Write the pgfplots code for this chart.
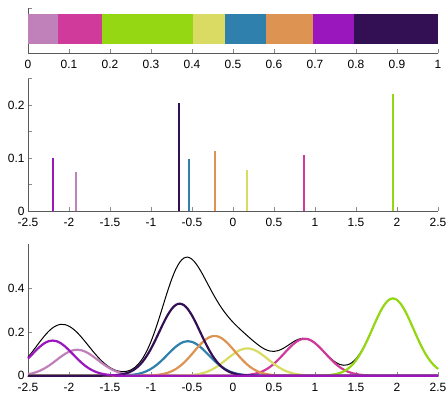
\documentclass[border=0pt]{standalone}
\usepackage{pgfplots}
\pgfplotsset{compat=1.18}
\usepackage{fontspec}
\setmainfont{Liberation Sans}
\definecolor{cLP}{HTML}{C080B9}
\definecolor{cM}{HTML}{D03A9B}
\definecolor{cG}{HTML}{94D712}
\definecolor{cY}{HTML}{D9DB62}
\definecolor{cB}{HTML}{2F80AC}
\definecolor{cO}{HTML}{DD9452}
\definecolor{cP}{HTML}{9A17BD}
\definecolor{cDP}{HTML}{331054}
\definecolor{axgray}{HTML}{5A5A5A}
\definecolor{tkgray}{HTML}{8A8A8A}
\pgfplotsset{
  base/.style={
    scale only axis, width=410bp,
    axis lines*=left, tick align=inside,
    axis line style={draw=axgray, line width=0.6bp},
    major tick style={draw=tkgray, line width=0.6bp},
    major tick length=4bp,
    tick label style={font=\fontsize{12}{14}\selectfont, text=black},
    xticklabel style={yshift=-4bp},
    every axis plot/.append style={line join=round},
  },
  pm/.style={
    xmin=-2.5, xmax=2.5,
    xtick={-2.5,-2,-1.5,-1,-0.5,0,0.5,1,1.5,2,2.5},
    xticklabels={-2.5,-2,-1.5,-1,-0.5,0,0.5,1,1.5,2,2.5},
  },
  comp/.style={line width=2.2bp, smooth},
}
\begin{document}
\begin{tikzpicture}
\path[use as bounding box] (0,0) rectangle (448bp,393bp);
% ---------- top: stacked weights ----------
\begin{axis}[base, at={(28bp,340bp)}, anchor=south west, height=45bp,
  xmin=0, xmax=1, ymin=0.2, ymax=1.7,
  xbar stacked, bar width=1,
  xtick={0,0.1,0.2,0.3,0.4,0.5,0.6,0.7,0.8,0.9,1},
  xticklabels={0,0.1,0.2,0.3,0.4,0.5,0.6,0.7,0.8,0.9,1},
  ytick={1.7}, yticklabels={},
]
\addplot[fill=cLP, draw=none] coordinates {(0.074,1)};
\addplot[fill=cM,  draw=none] coordinates {(0.106,1)};
\addplot[fill=cG,  draw=none] coordinates {(0.222,1)};
\addplot[fill=cY,  draw=none] coordinates {(0.078,1)};
\addplot[fill=cB,  draw=none] coordinates {(0.100,1)};
\addplot[fill=cO,  draw=none] coordinates {(0.114,1)};
\addplot[fill=cP,  draw=none] coordinates {(0.102,1)};
\addplot[fill=cDP, draw=none] coordinates {(0.204,1)};
\end{axis}
% ---------- middle: stems ----------
\begin{axis}[base, pm, at={(28bp,182bp)}, anchor=south west, height=132.3bp,
  ymin=0, ymax=0.25,
  ytick={0,0.05,0.1,0.15,0.2,0.25}, yticklabels={0,,0.1,,0.2,},
]
\addplot[ycomb, line width=2bp, draw=cP]  coordinates {(-2.19,0.1006)};
\addplot[ycomb, line width=2bp, draw=cLP] coordinates {(-1.91,0.0734)};
\addplot[ycomb, line width=2bp, draw=cDP] coordinates {(-0.655,0.2043)};
\addplot[ycomb, line width=2bp, draw=cB]  coordinates {(-0.54,0.0987)};
\addplot[ycomb, line width=2bp, draw=cO]  coordinates {(-0.216,0.114)};
\addplot[ycomb, line width=2bp, draw=cY]  coordinates {(0.175,0.078)};
\addplot[ycomb, line width=2bp, draw=cM]  coordinates {(0.862,0.1057)};
\addplot[ycomb, line width=2bp, draw=cG]  coordinates {(1.95,0.2214)};
\end{axis}
% ---------- bottom: mixture density ----------
\begin{axis}[base, pm, at={(28bp,17.3bp)}, anchor=south west, height=131.7bp,
  ymin=0, ymax=0.603, clip=false,
  ytick={0,0.2,0.4}, yticklabels={0,0.2,0.4},
]
\addplot[black, line width=1bp, smooth] coordinates {
(-2.5,0.0851)(-2.45,0.1082)(-2.4,0.1330)(-2.35,0.1581)(-2.3,0.1817)(-2.25,0.2025)(-2.2,0.2189)(-2.15,0.2300)(-2.1,0.2350)(-2.05,0.2339)(-2,0.2267)(-1.95,0.2142)(-1.9,0.1974)(-1.85,0.1770)(-1.8,0.1546)(-1.75,0.1313)(-1.7,0.1082)(-1.65,0.0866)(-1.6,0.0671)(-1.55,0.0508)(-1.5,0.0374)(-1.45,0.0276)(-1.4,0.0213)(-1.35,0.0185)(-1.3,0.0199)(-1.25,0.0257)(-1.2,0.0372)(-1.15,0.0550)(-1.1,0.0804)(-1.05,0.1143)(-1,0.1568)(-0.95,0.2073)(-0.9,0.2642)(-0.85,0.3245)(-0.8,0.3844)(-0.75,0.4395)(-0.7,0.4857)(-0.65,0.5192)(-0.6,0.5385)(-0.55,0.5427)(-0.5,0.5332)(-0.45,0.5123)(-0.4,0.4835)(-0.35,0.4497)(-0.3,0.4142)(-0.25,0.3792)(-0.2,0.3463)(-0.15,0.3162)(-0.1,0.2896)(-0.05,0.2660)(0,0.2448)(0.05,0.2258)(0.1,0.2082)(0.15,0.1911)(0.2,0.1745)(0.25,0.1582)(0.3,0.1431)(0.35,0.1296)(0.4,0.1193)(0.45,0.1130)(0.5,0.1113)(0.55,0.1147)(0.6,0.1226)(0.65,0.1337)(0.7,0.1463)(0.75,0.1581)(0.8,0.1671)(0.85,0.1715)(0.9,0.1701)(0.95,0.1627)(1,0.1499)(1.05,0.1331)(1.1,0.1139)(1.15,0.0945)(1.2,0.0765)(1.25,0.0619)(1.3,0.0518)(1.35,0.0477)(1.4,0.0501)(1.45,0.0599)(1.5,0.0775)(1.55,0.1028)(1.6,0.1354)(1.65,0.1737)(1.7,0.2154)(1.75,0.2574)(1.8,0.2959)(1.85,0.3269)(1.9,0.3470)(1.95,0.3540)(2,0.3470)(2.05,0.3268)(2.1,0.2957)(2.15,0.2570)(2.2,0.2147)(2.25,0.1723)(2.3,0.1329)(2.35,0.0984)(2.4,0.0701)(2.45,0.0479)(2.5,0.0315)};
% light pink
\addplot[comp, cLP] coordinates {
(-2.5,0.0067)(-2.45,0.0106)(-2.4,0.0161)(-2.35,0.0236)(-2.3,0.0331)(-2.25,0.0447)(-2.2,0.0579)(-2.15,0.0722)(-2.1,0.0864)(-2.05,0.0994)(-2,0.1098)(-1.95,0.1166)(-1.9,0.1190)(-1.85,0.1166)(-1.8,0.1098)(-1.75,0.0994)(-1.7,0.0864)(-1.65,0.0722)(-1.6,0.0579)(-1.55,0.0447)(-1.5,0.0331)(-1.45,0.0236)(-1.4,0.0161)(-1.35,0.0106)(-1.3,0.0067)(-1.25,0.0040)(-1.2,0.0024)(-1.15,0.0013)(-1.1,0.0007)(-1.05,0.0004)(-1,0.0002)(-0.95,0.0001)(-0.9,0)(2.5,0)};
% magenta
\addplot[comp, cM] coordinates {
(-2.5,0)(-0.15,0)(-0.1,0.0001)(-0.05,0.0002)(0,0.0004)(0.05,0.0007)(0.1,0.0014)(0.15,0.0025)(0.2,0.0044)(0.25,0.0074)(0.3,0.0120)(0.35,0.0186)(0.4,0.0278)(0.45,0.0398)(0.5,0.0549)(0.55,0.0726)(0.6,0.0923)(0.65,0.1127)(0.7,0.1323)(0.75,0.1491)(0.8,0.1616)(0.85,0.1682)(0.9,0.1682)(0.95,0.1616)(1,0.1491)(1.05,0.1323)(1.1,0.1127)(1.15,0.0923)(1.2,0.0726)(1.25,0.0549)(1.3,0.0398)(1.35,0.0278)(1.4,0.0186)(1.45,0.0120)(1.5,0.0074)(1.55,0.0044)(1.6,0.0025)(1.65,0.0014)(1.7,0.0007)(1.75,0.0004)(1.8,0.0002)(1.85,0.0001)(1.9,0)(2.5,0)};
% green
\addplot[comp, cG] coordinates {
(-2.5,0)(0.9,0)(0.95,0.0001)(1,0.0003)(1.05,0.0005)(1.1,0.0011)(1.15,0.0021)(1.2,0.0039)(1.25,0.0070)(1.3,0.0120)(1.35,0.0199)(1.4,0.0315)(1.45,0.0479)(1.5,0.0701)(1.55,0.0984)(1.6,0.1329)(1.65,0.1723)(1.7,0.2147)(1.75,0.2570)(1.8,0.2957)(1.85,0.3268)(1.9,0.3470)(1.95,0.3540)(2,0.3470)(2.05,0.3268)(2.1,0.2957)(2.15,0.2570)(2.2,0.2147)(2.25,0.1723)(2.3,0.1329)(2.35,0.0984)(2.4,0.0701)(2.45,0.0479)(2.5,0.0315)};
% yellow
\addplot[comp, cY] coordinates {
(-2.5,0)(-0.85,0)(-0.8,0.0001)(-0.75,0.0001)(-0.7,0.0003)(-0.65,0.0005)(-0.6,0.0010)(-0.55,0.0019)(-0.5,0.0033)(-0.45,0.0055)(-0.4,0.0089)(-0.35,0.0138)(-0.3,0.0206)(-0.25,0.0295)(-0.2,0.0406)(-0.15,0.0537)(-0.1,0.0683)(-0.05,0.0834)(0,0.0978)(0.05,0.1103)(0.1,0.1195)(0.15,0.1244)(0.2,0.1244)(0.25,0.1195)(0.3,0.1103)(0.35,0.0978)(0.4,0.0834)(0.45,0.0683)(0.5,0.0537)(0.55,0.0406)(0.6,0.0295)(0.65,0.0206)(0.7,0.0138)(0.75,0.0089)(0.8,0.0055)(0.85,0.0033)(0.9,0.0019)(0.95,0.0010)(1,0.0005)(1.05,0.0003)(1.1,0.0001)(1.15,0.0001)(1.2,0)(2.5,0)};
% blue
\addplot[comp, cB] coordinates {
(-2.5,0)(-1.6,0)(-1.55,0.0001)(-1.5,0.0001)(-1.45,0.0002)(-1.4,0.0005)(-1.35,0.0009)(-1.3,0.0018)(-1.25,0.0031)(-1.2,0.0054)(-1.15,0.0089)(-1.1,0.0140)(-1.05,0.0214)(-1,0.0313)(-0.95,0.0439)(-0.9,0.0593)(-0.85,0.0769)(-0.8,0.0958)(-0.75,0.1147)(-0.7,0.1320)(-0.65,0.1458)(-0.6,0.1549)(-0.55,0.1580)(-0.5,0.1549)(-0.45,0.1458)(-0.4,0.1320)(-0.35,0.1147)(-0.3,0.0958)(-0.25,0.0769)(-0.2,0.0593)(-0.15,0.0439)(-0.1,0.0313)(-0.05,0.0214)(0,0.0140)(0.05,0.0089)(0.1,0.0054)(0.15,0.0031)(0.2,0.0018)(0.25,0.0009)(0.3,0.0005)(0.35,0.0002)(0.4,0.0001)(0.45,0.0001)(0.5,0)(2.5,0)};
% orange
\addplot[comp, cO] coordinates {
(-2.5,0)(-1.25,0)(-1.2,0.0001)(-1.15,0.0002)(-1.1,0.0004)(-1.05,0.0008)(-1,0.0015)(-0.95,0.0027)(-0.9,0.0048)(-0.85,0.0080)(-0.8,0.0129)(-0.75,0.0201)(-0.7,0.0299)(-0.65,0.0429)(-0.6,0.0591)(-0.55,0.0782)(-0.5,0.0994)(-0.45,0.1214)(-0.4,0.1425)(-0.35,0.1606)(-0.3,0.1740)(-0.25,0.1811)(-0.2,0.1811)(-0.15,0.1740)(-0.1,0.1606)(-0.05,0.1425)(0,0.1214)(0.05,0.0994)(0.1,0.0782)(0.15,0.0591)(0.2,0.0429)(0.25,0.0299)(0.3,0.0201)(0.35,0.0129)(0.4,0.0080)(0.45,0.0048)(0.5,0.0027)(0.55,0.0015)(0.6,0.0008)(0.65,0.0004)(0.7,0.0002)(0.75,0.0001)(0.8,0)(2.5,0)};
% dark purple
\addplot[comp, cDP] coordinates {
(-2.5,0)(-1.7,0)(-1.65,0.0001)(-1.6,0.0002)(-1.55,0.0005)(-1.5,0.0010)(-1.45,0.0020)(-1.4,0.0037)(-1.35,0.0065)(-1.3,0.0112)(-1.25,0.0185)(-1.2,0.0293)(-1.15,0.0446)(-1.1,0.0653)(-1.05,0.0917)(-1,0.1238)(-0.95,0.1606)(-0.9,0.2001)(-0.85,0.2396)(-0.8,0.2756)(-0.75,0.3046)(-0.7,0.3235)(-0.65,0.3300)(-0.6,0.3235)(-0.55,0.3046)(-0.5,0.2756)(-0.45,0.2396)(-0.4,0.2001)(-0.35,0.1606)(-0.3,0.1238)(-0.25,0.0917)(-0.2,0.0653)(-0.15,0.0446)(-0.1,0.0293)(-0.05,0.0185)(0,0.0112)(0.05,0.0065)(0.1,0.0037)(0.15,0.0020)(0.2,0.0010)(0.25,0.0005)(0.3,0.0002)(0.35,0.0001)(0.4,0)(2.5,0)};
% purple
\addplot[comp, cP] coordinates {
(-2.5,0.0784)(-2.45,0.0976)(-2.4,0.1169)(-2.35,0.1345)(-2.3,0.1486)(-2.25,0.1578)(-2.2,0.1610)(-2.15,0.1578)(-2.1,0.1486)(-2.05,0.1345)(-2,0.1169)(-1.95,0.0976)(-1.9,0.0784)(-1.85,0.0604)(-1.8,0.0448)(-1.75,0.0319)(-1.7,0.0218)(-1.65,0.0143)(-1.6,0.0090)(-1.55,0.0055)(-1.5,0.0032)(-1.45,0.0018)(-1.4,0.0010)(-1.35,0.0005)(-1.3,0.0002)(-1.25,0.0001)(-1.2,0)(2.5,0)};
\end{axis}
\end{tikzpicture}
\end{document}
